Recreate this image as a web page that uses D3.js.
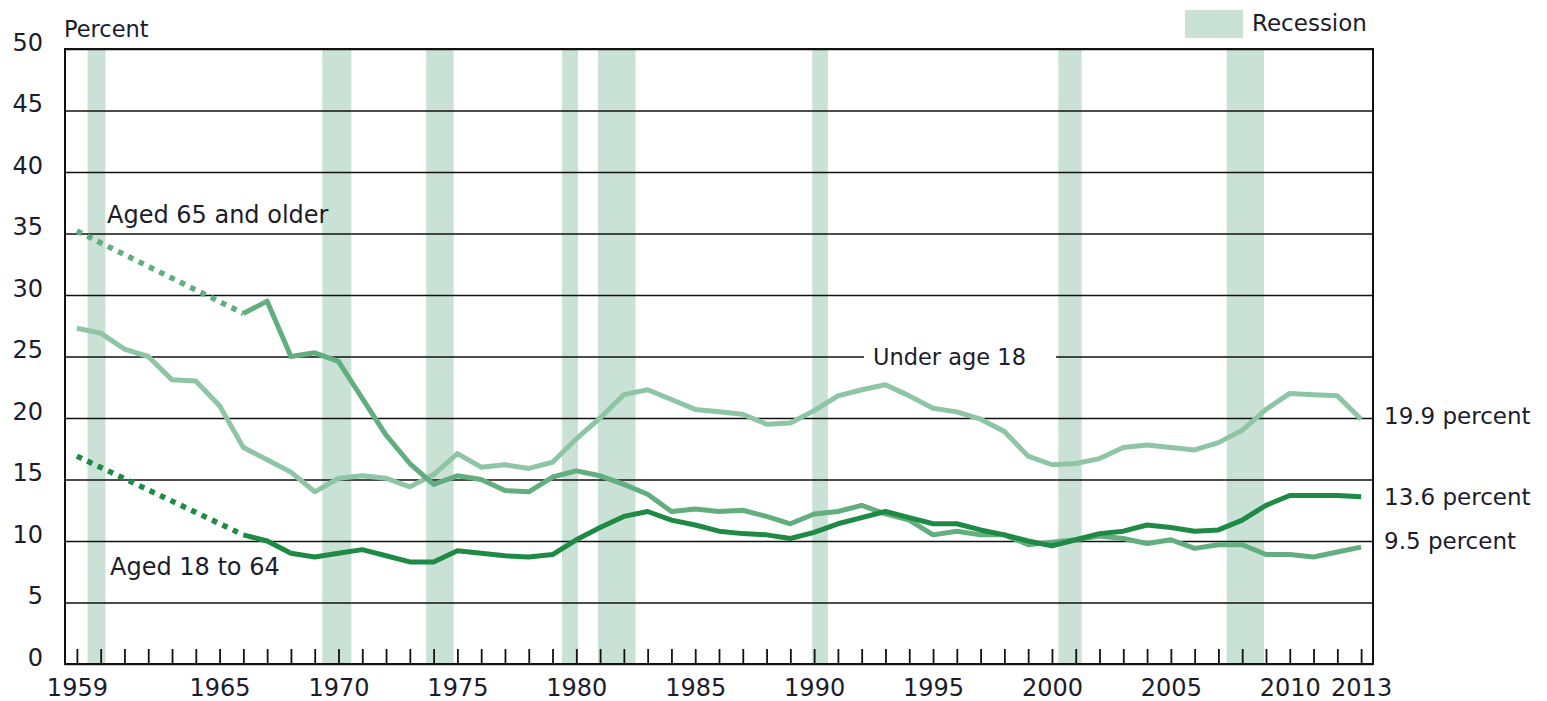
<!DOCTYPE html>
<html lang="en">
<head>
    <meta charset="UTF-8">
    <title>Poverty rates by age, 1959 to 2013</title>
    <script src="https://d3js.org/d3.v7.min.js"></script>
    <style>
        body { margin: 0; background: #fff; }
        svg { display: block; font-family: "DejaVu Sans", sans-serif; }
        .lbl { fill: #1c1c2a; font-size: 23px; }
    </style>
</head>
<body>
    <svg id="chart" width="1547" height="701"></svg>
    <script>
        // years on the axis
        const years = d3.range(1959, 2014);
        const labelYears = [1959, 1965, 1970, 1975, 1980, 1985, 1990, 1995, 2000, 2005, 2010, 2013];
        const yTicks = [0, 5, 10, 15, 20, 25, 30, 35, 40, 45, 50];

        // percent in poverty, 1959..2013 (null = no annual estimate)
        const under18 = [27.3, 26.9, 25.6, 25.0, 23.1, 23.0, 21.0, 17.6, 16.6, 15.6,
            14.0, 15.1, 15.3, 15.1, 14.4, 15.4, 17.1, 16.0, 16.2, 15.9,
            16.4, 18.3, 20.0, 21.9, 22.3, 21.5, 20.7, 20.5, 20.3, 19.5,
            19.6, 20.6, 21.8, 22.3, 22.7, 21.8, 20.8, 20.5, 19.9, 18.9,
            16.9, 16.2, 16.3, 16.7, 17.6, 17.8, 17.6, 17.4, 18.0, 19.0,
            20.7, 22.0, 21.9, 21.8, 19.9];
        const aged65 = [35.2, null, null, null, null, null, null, 28.5, 29.5, 25.0,
            25.3, 24.6, 21.6, 18.6, 16.3, 14.6, 15.3, 15.0, 14.1, 14.0,
            15.2, 15.7, 15.3, 14.6, 13.8, 12.4, 12.6, 12.4, 12.5, 12.0,
            11.4, 12.2, 12.4, 12.9, 12.2, 11.7, 10.5, 10.8, 10.5, 10.5,
            9.7, 9.9, 10.1, 10.4, 10.2, 9.8, 10.1, 9.4, 9.7, 9.7,
            8.9, 8.9, 8.7, 9.1, 9.5];
        const aged1864 = [16.9, null, null, null, null, null, null, 10.5, 10.0, 9.0,
            8.7, 9.0, 9.3, 8.8, 8.3, 8.3, 9.2, 9.0, 8.8, 8.7,
            8.9, 10.1, 11.1, 12.0, 12.4, 11.7, 11.3, 10.8, 10.6, 10.5,
            10.2, 10.7, 11.4, 11.9, 12.4, 11.9, 11.4, 11.4, 10.9, 10.5,
            10.0, 9.6, 10.1, 10.6, 10.8, 11.3, 11.1, 10.8, 10.9, 11.7,
            12.9, 13.7, 13.7, 13.7, 13.6];

        // recession shading, in axis years
        const recessionStart = [1959.45, 1969.32, 1973.69, 1979.4, 1980.91, 1989.92, 2000.27, 2007.35];
        const recessionEnd   = [1960.2, 1970.54, 1974.84, 1980.07, 1982.49, 1990.58, 2001.25, 2008.92];

        const svg = d3.select("#chart");
        const pl = 65, pr = 1373, pt = 49, pb = 664;

        const x = d3.scaleLinear().domain([1958.5, 2013.5]).range([pl, pr]);
        const y = d3.scaleLinear().domain([0, 50]).range([pb, pt]);

        const c18 = "#8ec6a5", c65 = "#62ae7f", c1864 = "#1e8a45", cRec = "#c9e2d5";

        // recession bars
        svg.append("g").selectAll("rect")
            .data(d3.zip(recessionStart, recessionEnd))
            .join("rect")
            .attr("x", d => x(d[0]))
            .attr("width", d => x(d[1]) - x(d[0]))
            .attr("y", pt)
            .attr("height", pb - pt)
            .attr("fill", cRec);

        // grid + y labels
        const yAxis = svg.append("g")
            .attr("transform", `translate(${pl},0)`)
            .call(d3.axisLeft(y).tickValues(yTicks).tickSize(-(pr - pl)).tickPadding(22));
        yAxis.select(".domain").remove();
        yAxis.selectAll("line").attr("stroke", "#111").attr("stroke-width", 1.6);
        yAxis.selectAll("text").attr("class", "lbl").attr("dy", "0.05em")
            .style("font-family", "DejaVu Sans").style("font-size", "24px");

        // gap in the 25 gridline for the label
        svg.append("rect").attr("x", 864).attr("y", y(25) - 4).attr("width", 192).attr("height", 8).attr("fill", "#fff");

        // frame
        svg.append("rect")
            .attr("x", pl).attr("y", pt)
            .attr("width", pr - pl).attr("height", pb - pt)
            .attr("fill", "none").attr("stroke", "#111").attr("stroke-width", 2);

        // x axis: yearly ticks pointing up
        const xAxis = svg.append("g")
            .attr("transform", `translate(0,${pb})`)
            .call(d3.axisBottom(x).tickValues(years).tickSize(-15).tickPadding(15)
                .tickFormat(d => labelYears.includes(d) ? String(d) : ""));
        xAxis.select(".domain").remove();
        xAxis.selectAll("line").attr("stroke", "#111").attr("stroke-width", 1.8);
        xAxis.selectAll("text").attr("class", "lbl")
            .style("font-family", "DejaVu Sans").style("font-size", "24px");

        // series
        const pts = vals => years.map((yr, i) => [yr, vals[i]]);
        const line = d3.line()
            .defined(d => d[1] != null)
            .x(d => x(d[0])).y(d => y(d[1]));
        const firstGap = vals => {
            const p = pts(vals).filter(d => d[1] != null);
            return [p[0], p[1]];
        };

        function drawSeries(vals, color) {
            svg.append("path")
                .datum(firstGap(vals))
                .attr("d", line)
                .attr("fill", "none")
                .attr("stroke", color)
                .attr("stroke-width", 5.5)
                .attr("stroke-dasharray", "5.5,6");
            svg.append("path")
                .datum(pts(vals).slice(1))
                .attr("d", line)
                .attr("fill", "none")
                .attr("stroke", color)
                .attr("stroke-width", 5)
                .attr("stroke-linejoin", "round");
        }

        svg.append("path")
            .datum(pts(under18))
            .attr("d", line)
            .attr("fill", "none")
            .attr("stroke", c18)
            .attr("stroke-width", 5)
            .attr("stroke-linejoin", "round");
        drawSeries(aged65, c65);
        drawSeries(aged1864, c1864);

        // annotations
        const note = (tx, ty, s, size) => svg.append("text")
            .attr("class", "lbl").attr("x", tx).attr("y", ty)
            .style("font-size", (size || 23) + "px").text(s);

        note(64, 37, "Percent", 22.5);
        note(107, 223, "Aged 65 and older", 24);
        note(110, 575, "Aged 18 to 64", 24);
        note(873, 365, "Under age 18", 22.5);
        note(1384, 424, "19.9 percent");
        note(1384, 505, "13.6 percent");
        note(1384, 549, "9.5 percent");

        // legend
        svg.append("rect").attr("x", 1185).attr("y", 10).attr("width", 58).attr("height", 28).attr("fill", cRec);
        note(1252, 31, "Recession");
    </script>
</body>
</html>
